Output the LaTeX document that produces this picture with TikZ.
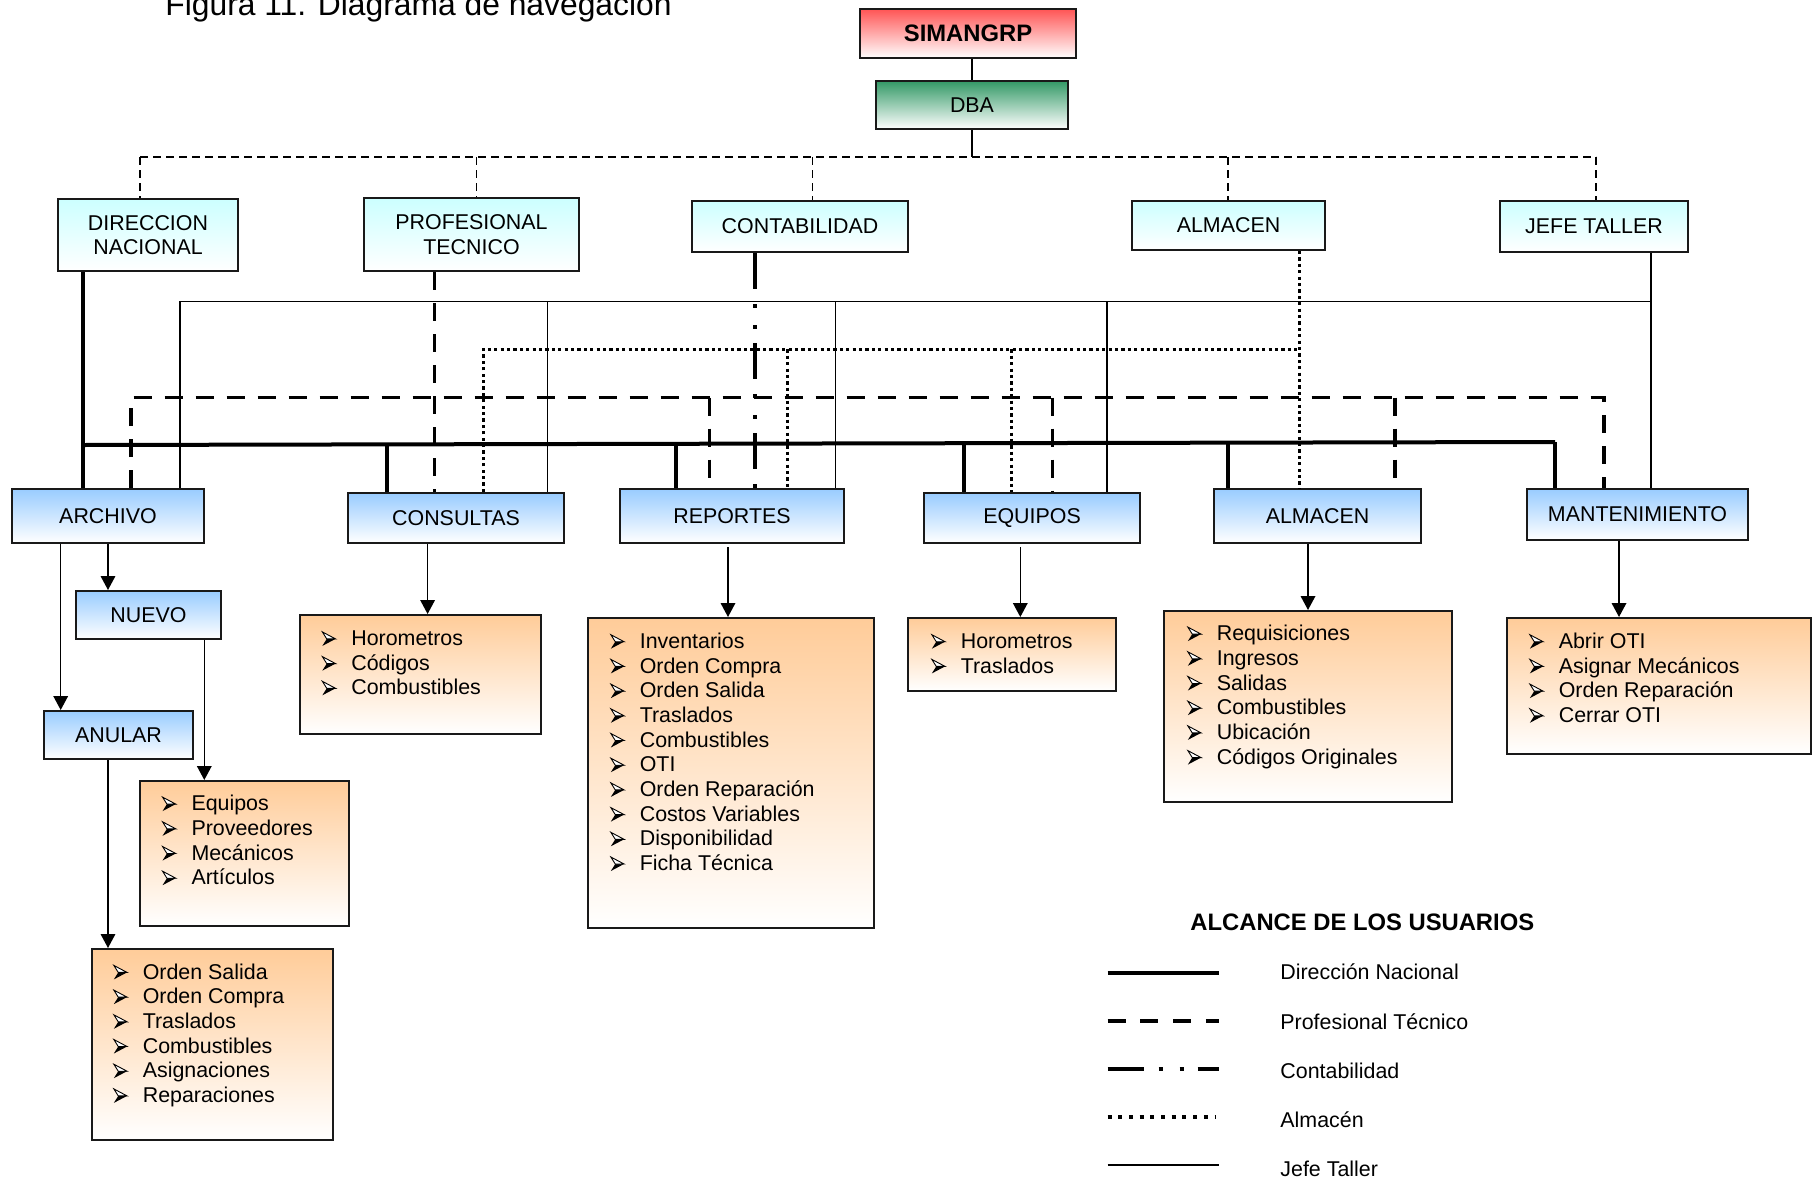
\documentclass[tikz,border=0pt]{standalone}
\usepackage{fontspec}
\setmainfont{Liberation Sans}
\usetikzlibrary{arrows.meta}

\definecolor{cyanTop}{RGB}{204,255,255}
\definecolor{blueTop}{RGB}{153,204,255}
\definecolor{orangeTop}{RGB}{255,204,153}
\definecolor{redTop}{RGB}{255,85,85}
\definecolor{greenTop}{RGB}{51,153,102}
\definecolor{edgeGray}{RGB}{25,25,25}

\newcommand\regfont{\fontsize{10.7pt}{12.35pt}\selectfont}
\newcommand\boldfont{\bfseries\fontsize{11.9pt}{14pt}\selectfont}
% arrowhead bullet: outlined upper half, solid lower half
\newcommand\bul{\tikz[x=1pt,y=1pt,baseline=0pt]{%
  \fill[black] (0,-0.2) -- (6.6,3.3) -- (2.2,3.3) -- cycle;
  \filldraw[fill=white, draw=black, line width=0.45pt, line join=miter]
    (0,6.8) -- (6.6,3.3) -- (2.2,3.3) -- cycle;}}
\newcommand\itm[1]{\makebox[14.7pt][l]{\bul}#1}
\newcommand\lst[1]{\begin{tabular}[t]{@{}l@{}}#1\end{tabular}}
% box from corner (x1,y1) to corner (x2,y2), given in drawing units
\newcommand\boxnode[7]{%
  \node[#1, minimum width={(#5-#3)*0.5pt}, minimum height={(#6-#4)*0.5pt}]
    (#2) at ({(#3+#5)/2},{(#4+#6)/2}) {#7};}

\tikzset{
  box/.style={draw=edgeGray, line width=1pt, inner sep=0pt, font=\regfont,
              align=center, bottom color=white},
  topbox/.style={box, font=\boldfont},
  rolebox/.style={box, top color=cyanTop},
  modbox/.style={box, top color=blueTop},
  listbox/.style={box, top color=orangeTop},
  listtext/.style={inner sep=0pt, font=\regfont, anchor=base west},
  plain/.style={draw=black, line width=0.65pt},
  topdash/.style={draw=black, line width=0.65pt, dash pattern=on 4pt off 2.5pt},
  lnDir/.style={draw=black, line width=2pt},
  lnProf/.style={draw=black, line width=1.7pt, dash pattern=on 9pt off 6.5pt},
  lnCont/.style={draw=black, line width=2pt,
                 dash pattern=on 18pt off 7.5pt on 2pt off 8.5pt on 2pt off 7pt},
  lnAlm/.style={draw=black, line width=1.6pt, dash pattern=on 1.6pt off 1.6pt},
  lnJefe/.style={draw=black, line width=0.65pt},
  arr/.style={draw=black, line width=0.75pt, -{Triangle[length=7pt,width=7.3pt]}},
  legtext/.style={inner sep=0pt, font=\regfont, anchor=base west}
}

\begin{document}
\begin{tikzpicture}[x=0.5pt,y=-0.5pt]
\useasboundingbox (0,0) rectangle (1814,1178);

% title
\node[inner sep=0pt, anchor=base west, font=\fontsize{15.9pt}{19pt}\selectfont]
  (title) at (165,16) {Figura 11. Diagrama de navegación};

% top of the hierarchy
\boxnode{topbox, top color=redTop}{simangrp}{860}{9}{1076}{58}{SIMANGRP}
\boxnode{box, top color=greenTop}{dba}{876}{81}{1068}{129}{DBA}

% user roles
\boxnode{rolebox}{dir}{58}{199}{238}{271}{DIRECCION\\NACIONAL}
\boxnode{rolebox}{prof}{364}{198}{579}{271}{PROFESIONAL\\TECNICO}
\boxnode{rolebox}{cont}{692}{201}{908}{252}{CONTABILIDAD}
\boxnode{rolebox}{almtop}{1132}{201}{1325}{250}{ALMACEN}
\boxnode{rolebox}{jefe}{1500}{201}{1688}{252}{JEFE TALLER}

% modules
\boxnode{modbox}{archivo}{12}{489}{204}{543}{ARCHIVO}
\boxnode{modbox}{consultas}{348}{493}{564}{543}{CONSULTAS}
\boxnode{modbox}{reportes}{620}{489}{844}{543}{REPORTES}
\boxnode{modbox}{equipos}{924}{493}{1140}{543}{EQUIPOS}
\boxnode{modbox}{almacen}{1214}{489}{1421}{543}{ALMACEN}
\boxnode{modbox}{mant}{1527}{489}{1748}{540}{MANTENIMIENTO}
\boxnode{modbox}{nuevo}{76}{591}{221}{639}{NUEVO}
\boxnode{modbox}{anular}{44}{711}{193}{759}{ANULAR}

% option lists
\boxnode{listbox}{lnuevo}{140}{781}{349}{926}{}
\boxnode{listbox}{lanular}{92}{949}{333}{1140}{}
\boxnode{listbox}{lcons}{300}{615}{541}{734}{}
\boxnode{listbox}{lrep}{588}{618}{874}{928}{}
\boxnode{listbox}{lequi}{908}{618}{1116}{691}{}
\boxnode{listbox}{lalm}{1164}{611}{1452}{802}{}
\boxnode{listbox}{lmant}{1507}{618}{1811}{754}{}

\node[listtext] (tnuevo) at (161.7,810.7) {\lst{\itm{Equipos}\\ \itm{Proveedores}\\ \itm{Mecánicos}\\ \itm{Artículos}}};
\node[listtext] (tanular) at (113,979) {\lst{\itm{Orden Salida}\\ \itm{Orden Compra}\\ \itm{Traslados}\\ \itm{Combustibles}\\ \itm{Asignaciones}\\ \itm{Reparaciones}}};
\node[listtext] (tcons) at (321.5,645.5) {\lst{\itm{Horometros}\\ \itm{Códigos}\\ \itm{Combustibles}}};
\node[listtext] (trep) at (610,648.3) {\lst{\itm{Inventarios}\\ \itm{Orden Compra}\\ \itm{Orden Salida}\\ \itm{Traslados}\\ \itm{Combustibles}\\ \itm{OTI}\\ \itm{Orden Reparación}\\ \itm{Costos Variables}\\ \itm{Disponibilidad}\\ \itm{Ficha Técnica}}};
\node[listtext] (tequi) at (931,648.3) {\lst{\itm{Horometros}\\ \itm{Traslados}}};
\node[listtext] (talm) at (1187,640.7) {\lst{\itm{Requisiciones}\\ \itm{Ingresos}\\ \itm{Salidas}\\ \itm{Combustibles}\\ \itm{Ubicación}\\ \itm{Códigos Originales}}};
\node[listtext] (tmant) at (1529,648.3) {\lst{\itm{Abrir OTI}\\ \itm{Asignar Mecánicos}\\ \itm{Orden Reparación}\\ \itm{Cerrar OTI}}};

% SIMANGRP -> DBA -> roles
\draw[plain] (dba.north |- simangrp.south) -- (dba.north);
\coordinate (busTop) at (972,157);
\coordinate (busTopL) at (140,157);
\coordinate (busTopR) at (1596,157);
\draw[plain] (dba.south) -- (busTop);
\draw[topdash] (busTopL) -- (busTopR);
\draw[topdash] (busTopL) -- (140,0 |- dir.north);
\draw[topdash] (476.3,157) -- (476.3,0 |- prof.north);
\draw[topdash] (812.7,157) -- (812.7,0 |- cont.north);
\draw[topdash] (1228,157) -- (1228,0 |- almtop.north);
\draw[topdash] (busTopR) -- (1596,0 |- jefe.north);

% Jefe Taller scope
\coordinate (jL) at (180,301.7);
\coordinate (jR) at (1651,301.7);
\draw[lnJefe] (1651,0 |- jefe.south) -- (1651,0 |- mant.north);
\draw[lnJefe] (180,0 |- archivo.north) -- (jL) -- (jR);
\draw[lnJefe] (547.3,301.7) -- (547.3,0 |- consultas.north);
\draw[lnJefe] (835.2,301.7) -- (835.2,0 |- reportes.north);
\draw[lnJefe] (1107,301.7) -- (1107,0 |- equipos.north);

% Almacen scope
\coordinate (aL) at (483.3,349.3);
\coordinate (aR) at (1299.4,349.3);
\draw[lnAlm] (1299.4,0 |- almtop.south) -- (1299.4,0 |- almacen.north);
\draw[lnAlm] (483.3,0 |- consultas.north) -- (aL) -- (aR);
\draw[lnAlm] (787.7,349.3) -- (787.7,0 |- reportes.north);
\draw[lnAlm] (1011.7,349.3) -- (1011.7,0 |- equipos.north);

% Profesional Tecnico scope
\coordinate (pL) at (131,397.5);
\coordinate (pR) at (1604,397.5);
\draw[lnProf] (434.5,0 |- prof.south) -- (434.5,0 |- consultas.north);
\draw[lnProf] (131,0 |- archivo.north) -- (pL) -- (pR) -- (1604,0 |- mant.north);
\draw[lnProf] (709.5,397.5) -- (709.5,0 |- reportes.north);
\draw[lnProf] (1052.3,397.5) -- (1052.3,0 |- equipos.north);
\draw[lnProf] (1395,397.5) -- (1395,0 |- almacen.north);

% Contabilidad scope
\draw[lnCont] (755.4,0 |- cont.south) -- (755.4,0 |- reportes.north);

% Direccion Nacional scope
\coordinate (dL) at (83,445);
\coordinate (dR) at (1555,442);
\draw[lnDir] (83,0 |- dir.south) -- (83,0 |- archivo.north);
\draw[lnDir] (dL) -- (dR);
\draw[lnDir] (387.4,444) -- (387.4,0 |- consultas.north);
\draw[lnDir] (675.5,443.5) -- (675.5,0 |- reportes.north);
\draw[lnDir] (963.7,443) -- (963.7,0 |- equipos.north);
\draw[lnDir] (1228.3,442.5) -- (1228.3,0 |- almacen.north);
\draw[lnDir] (dR) -- (1555,0 |- mant.north);

% module -> options arrows
\draw[arr] (108,0 |- archivo.south) -- (108,0 |- nuevo.north);
\draw[arr] (60.7,0 |- archivo.south) -- (60.7,0 |- anular.north);
\draw[arr] (204.3,0 |- nuevo.south) -- (204.3,0 |- lnuevo.north);
\draw[arr] (108,0 |- anular.south) -- (108,0 |- lanular.north);
\draw[arr] (427.6,0 |- consultas.south) -- (427.6,0 |- lcons.north);
\draw[arr] (728,547) -- (728,0 |- lrep.north);
\draw[arr] (1020.3,547) -- (1020.3,0 |- lequi.north);
\draw[arr] (1308,0 |- almacen.south) -- (1308,0 |- lalm.north);
\draw[arr] (1619,0 |- mant.south) -- (1619,0 |- lmant.north);

% legend
\node[inner sep=0pt, anchor=base west, font=\boldfont] (legtitle) at (1190,930) {ALCANCE DE LOS USUARIOS};
\coordinate (l1a) at (1107.5,972.7);  \coordinate (l1b) at (1219,972.7);
\coordinate (l2a) at (1107.5,1021);   \coordinate (l2b) at (1219,1021);
\coordinate (l3a) at (1107.5,1069.3); \coordinate (l3b) at (1219,1069.3);
\coordinate (l4a) at (1107.5,1117.3); \coordinate (l4b) at (1216,1117.3);
\coordinate (l5a) at (1107.5,1165);   \coordinate (l5b) at (1219,1165);
\draw[lnDir] (l1a) -- (l1b);
\draw[lnProf, line width=2pt, dash pattern=on 9pt off 7.4pt] (l2a) -- (l2b);
\draw[lnCont] (l3a) -- (l3b);
\draw[lnAlm, line width=2pt, dash pattern=on 2pt off 3.35pt] (l4a) -- (l4b);
\draw[lnJefe, line width=0.75pt] (l5a) -- (l5b);
\node[legtext] (lg1) at (1280,979.3) {Dirección Nacional};
\node[legtext] (lg2) at (1280,1029) {Profesional Técnico};
\node[legtext] (lg3) at (1280,1078.3) {Contabilidad};
\node[legtext] (lg4) at (1280,1127.3) {Almacén};
\node[legtext] (lg5) at (1280,1176) {Jefe Taller};
\end{tikzpicture}
\end{document}
